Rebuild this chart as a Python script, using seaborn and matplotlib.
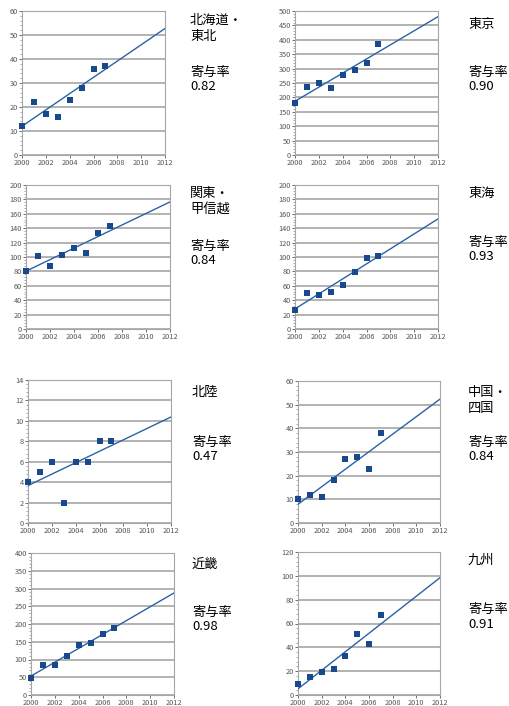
import matplotlib
matplotlib.use("Agg")
import matplotlib.pyplot as plt
import seaborn as sns
import numpy as np
from matplotlib.ticker import MultipleLocator, AutoMinorLocator

sns.set_style("white")
plt.rcParams['font.family'] = ['Noto Sans CJK JP', 'DejaVu Sans']

# data
years = [2000, 2001, 2002, 2003, 2004, 2005, 2006, 2007]
regions = ["北海道・\n東北", "東京", "関東・\n甲信越", "東海", "北陸", "中国・\n四国", "近畿", "九州"]
contrib = ["0.82", "0.90", "0.84", "0.93", "0.47", "0.84", "0.98", "0.91"]
hokkaido = [12, 22, 17, 16, 23, 28, 36, 37]
tokyo = [180, 235, 250, 233, 277, 296, 320, 387]
kanto = [80, 101, 87, 103, 113, 106, 134, 143]
tokai = [26, 50, 47, 52, 61, 79, 99, 101]
hokuriku = [4, 5, 6, 2, 6, 6, 8, 8]
chugoku = [10, 12, 11, 18, 27, 28, 23, 38]
kinki = [48, 84, 84, 110, 140, 147, 172, 188]
kyushu = [9, 15, 19, 22, 33, 51, 43, 67]
series = [hokkaido, tokyo, kanto, tokai, hokuriku, chugoku, kinki, kyushu]
ymax = [60, 500, 200, 200, 14, 60, 400, 120]
ystep = [10, 50, 20, 20, 2, 10, 50, 20]

W, H = 509, 706
fig = plt.figure(figsize=(W / 100, H / 100), dpi=100)

# axes boxes in pixels: left, top, right, bottom
boxes = [(22, 11, 165, 155), (295, 11, 438, 155),
         (26, 185, 170, 329), (295, 185, 438, 329),
         (28, 380, 171, 523), (298, 381, 440, 523),
         (31, 553, 174, 695), (298, 552, 440, 695)]
# text anchors in pixels: x, name top, contribution label top
texts = [(190, 14, 66), (468, 18, 66),
         (190, 187, 240), (468, 187, 236),
         (192, 386, 436), (468, 386, 436),
         (192, 558, 606), (468, 554, 603)]

blue = "#17498c"
grid_c = "#a6a6a6"

for i, vals in enumerate(series):
    l, t, r, b = boxes[i]
    ax = fig.add_axes([l / W, 1 - b / H, (r - l) / W, (b - t) / H])
    ax.set_xlim(2000, 2012)
    ax.set_ylim(0, ymax[i])
    sns.regplot(x=years, y=vals, ax=ax, ci=None, truncate=False, marker='s',
                scatter_kws={'s': 15, 'color': blue, 'alpha': 1, 'clip_on': False,
                             'zorder': 4, 'linewidths': 0},
                line_kws={'color': '#2a62a6', 'lw': 1.0, 'zorder': 3})
    ax.set_xlim(2000, 2012)
    ax.set_ylim(0, ymax[i])
    ax.xaxis.set_major_locator(MultipleLocator(2))
    ax.yaxis.set_major_locator(MultipleLocator(ystep[i]))
    ax.yaxis.set_minor_locator(AutoMinorLocator(5))
    ax.grid(axis='y', color=grid_c, lw=1.2)
    ax.set_axisbelow(True)
    for s in ax.spines.values():
        s.set_color(grid_c)
        s.set_linewidth(0.8)
    ax.tick_params(axis='both', which='major', labelsize=5.3, colors='#555555',
                   length=2, width=0.6, pad=1, direction='out')
    ax.tick_params(axis='y', which='minor', length=1.5, width=0.5, color='#888888', left=True)
    ax.tick_params(axis='x', bottom=True)
    ax.tick_params(axis='y', left=True)
    ax.set_xlabel('')
    ax.set_ylabel('')

    x, ny, cy = texts[i]
    fig.text(x / W, 1 - ny / H, regions[i], fontsize=9.5, va='top', ha='left',
             linespacing=1.3, color='black')
    fig.text(x / W, 1 - cy / H, "寄与率\n" + contrib[i], fontsize=9.5, va='top', ha='left',
             linespacing=1.15, color='black')

fig.savefig("out.png", dpi=100)
